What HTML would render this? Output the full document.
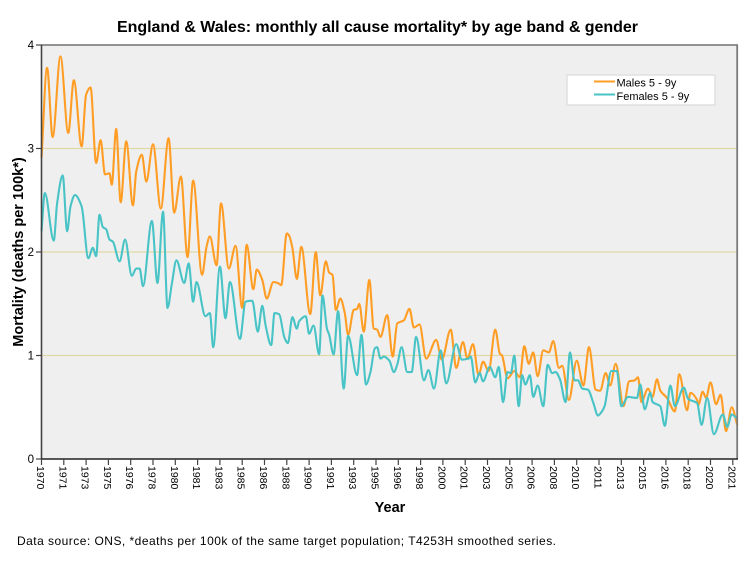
<!DOCTYPE html>
<html>
<head>
<meta charset="utf-8">
<style>
html,body{margin:0;padding:0;background:#fff}
svg{display:block}
text{font-family:"Liberation Sans",sans-serif;fill:#000}
</style>
</head>
<body>
<svg id="chart" xmlns="http://www.w3.org/2000/svg" width="754" height="564" viewBox="0 0 754 564">
<text x="377.5" y="32" font-size="16" font-weight="bold" text-anchor="middle" textLength="521">England &amp; Wales: monthly all cause mortality* by age band &amp; gender</text>
<text transform="translate(23,252) rotate(-90)" font-size="14.5" font-weight="bold" text-anchor="middle">Mortality (deaths per 100k*)</text>
<text x="390" y="512" font-size="14.5" font-weight="bold" text-anchor="middle">Year</text>
<text x="17" y="545" font-size="12" textLength="539">Data source: ONS, *deaths per 100k of the same target population; T4253H smoothed series.</text>
<rect x="41.5" y="45" width="695.5" height="414" fill="#efefef"/>
<g id="grid"></g>
<g id="series"></g>
<g id="axes"></g>
<g>
<rect x="567" y="75" width="148" height="30" fill="#fff" stroke="#e0e0e0" stroke-width="1.5"/>
<line x1="594" x2="615" y1="81.5" y2="81.5" stroke="#ff9d24" stroke-width="2"/>
<line x1="594" x2="615" y1="94.5" y2="94.5" stroke="#48c3c6" stroke-width="2"/>
<text x="616.5" y="86.5" font-size="11">Males 5 - 9y</text>
<text x="616.5" y="100" font-size="11">Females 5 - 9y</text>
</g>
</svg>
<script>
const tickYears = [1970,1971,1973,1975,1976,1978,1980,1981,1983,1985,1986,1988,1990,1991,1993,1995,1996,1998,2000,2001,2003,2005,2006,2008,2010,2011,2013,2015,2016,2018,2020,2021];
const yTicks = [0,1,2,3,4];
const gridValues = [1,2,3];
const maleMonths = [0,5,10,17,24,29,36,40,44,49,53,57,61,63,67,71,76,82,85,90,94,100,107,114,119,125,131,136,144,148,151,157,161,168,174,180,184,190,193,198,202,208,212,215,220,222,225,229,233,241,246,250,255,258,261,264,268,272,275,280,283,285,289,294,298,301,304,310,315,319,325,330,334,339,345,354,359,367,372,378,382,387,392,396,401,407,411,413,418,424,429,433,437,441,445,450,455,459,464,467,473,480,486,491,497,501,506,510,515,522,527,532,535,538,544,548,552,555,561,568,572,579,582,588,589,593,596,600,605,609,614,619,624];
const maleValues = [2.91,3.78,3.11,3.89,3.15,3.66,3.02,3.52,3.59,2.86,3.08,2.75,2.76,2.65,3.19,2.48,3.07,2.45,2.78,2.94,2.68,3.04,2.42,3.10,2.38,2.73,1.95,2.69,1.78,2.05,2.15,1.87,2.47,1.84,2.06,1.46,2.07,1.64,1.83,1.73,1.55,1.71,1.70,1.68,2.18,2.16,2.04,1.74,2.05,1.40,2.00,1.58,1.91,1.80,1.78,1.44,1.55,1.41,1.20,1.44,1.45,1.50,1.23,1.73,1.26,1.25,1.18,1.39,0.99,1.31,1.34,1.45,1.27,1.30,0.97,1.15,0.96,1.25,0.88,1.13,0.97,1.11,0.81,0.94,0.85,1.25,1.02,1.00,0.78,0.85,0.79,1.09,0.92,1.03,0.80,1.05,1.03,1.14,0.88,0.90,0.57,0.95,0.71,1.08,0.67,0.66,0.83,0.71,0.92,0.51,0.75,0.76,0.79,0.55,0.68,0.60,0.77,0.66,0.59,0.46,0.82,0.47,0.64,0.57,0.52,0.65,0.59,0.74,0.53,0.62,0.27,0.50,0.33];
const femaleMonths = [0,3,11,14,19,23,26,30,36,42,46,49,52,55,58,61,64,70,75,81,85,88,91,99,104,109,113,117,121,128,132,136,139,147,151,154,160,165,169,178,183,189,194,198,201,206,209,213,218,221,225,229,231,237,240,244,249,252,256,258,262,266,271,275,283,287,291,295,299,301,304,307,312,316,319,323,328,332,336,343,347,352,358,363,372,377,383,385,389,393,396,402,407,410,414,418,421,424,428,431,434,438,441,445,450,454,458,461,465,470,474,478,481,485,490,495,499,502,505,511,516,520,526,534,537,541,546,548,555,559,564,568,576,580,588,592,597,603,611,615,619,624];
const femaleValues = [2.20,2.57,2.11,2.47,2.74,2.20,2.44,2.55,2.44,1.94,2.04,1.96,2.36,2.24,2.22,2.12,2.10,1.91,2.12,1.77,1.84,1.84,1.67,2.30,1.70,2.39,1.46,1.70,1.92,1.70,1.89,1.52,1.71,1.38,1.41,1.08,1.86,1.36,1.71,1.16,1.52,1.53,1.23,1.48,1.29,1.10,1.41,1.40,1.17,1.12,1.37,1.26,1.33,1.38,1.21,1.29,1.01,1.58,1.26,1.20,1.01,1.43,0.68,1.19,0.81,1.20,0.72,0.84,1.07,1.08,0.97,0.99,0.95,0.84,0.91,1.08,0.84,0.84,1.18,0.76,0.86,0.68,1.05,0.73,1.11,0.96,0.97,0.99,0.74,0.83,0.75,0.89,0.79,0.89,0.55,0.84,0.83,1.00,0.51,0.81,0.72,0.81,0.60,0.71,0.51,0.91,0.83,0.84,0.77,0.55,1.03,0.76,0.76,0.68,0.67,0.54,0.42,0.45,0.51,0.85,0.85,0.51,0.60,0.59,0.72,0.48,0.64,0.55,0.51,0.32,0.71,0.51,0.69,0.58,0.54,0.33,0.59,0.24,0.43,0.31,0.43,0.39];

const NS = 'http://www.w3.org/2000/svg';
const xMonth = m => 41.5 + m * 1.115;
const yVal = v => 459 - v * 103.5;

function mk(parent, tag, attrs) {
  const el = document.createElementNS(NS, tag);
  for (const k in attrs) el.setAttribute(k, attrs[k]);
  parent.appendChild(el);
  return el;
}

function smoothPath(ms, vs) {
  const n = Math.min(ms.length, vs.length);
  const xs = [], ys = [];
  for (let i = 0; i < n; i++) { xs.push(xMonth(ms[i])); ys.push(yVal(vs[i])); }
  const t = [];
  for (let i = 0; i < n; i++) {
    if (i === 0 || i === n - 1) {
      const a = i === 0 ? 0 : n - 2;
      t.push((ys[a + 1] - ys[a]) / (xs[a + 1] - xs[a]));
    } else {
      const s0 = (ys[i] - ys[i - 1]) / (xs[i] - xs[i - 1]);
      const s1 = (ys[i + 1] - ys[i]) / (xs[i + 1] - xs[i]);
      t.push(s0 * s1 <= 0 ? 0 : 2 * s0 * s1 / (s0 + s1));
    }
  }
  let d = 'M' + xs[0].toFixed(2) + ' ' + ys[0].toFixed(2);
  for (let i = 0; i < n - 1; i++) {
    const h = (xs[i + 1] - xs[i]) / 3;
    d += 'C' + (xs[i] + h).toFixed(2) + ' ' + (ys[i] + t[i] * h).toFixed(2) + ' ' +
      (xs[i + 1] - h).toFixed(2) + ' ' + (ys[i + 1] - t[i + 1] * h).toFixed(2) + ' ' +
      xs[i + 1].toFixed(2) + ' ' + ys[i + 1].toFixed(2);
  }
  return d;
}

const grid = document.getElementById('grid');
gridValues.forEach(v => {
  const l = mk(grid, 'line', {x1: 41.5, x2: 737, y1: yVal(v), y2: yVal(v), stroke: '#dfd9a8', 'stroke-width': 1.3});
  
  
});

const series = document.getElementById('series');
const maleLine = mk(series, 'path', {d: smoothPath(maleMonths, maleValues), fill: 'none', stroke: '#ff9d24', 'stroke-width': 2.1, 'stroke-linejoin': 'round'});


const femaleLine = mk(series, 'path', {d: smoothPath(femaleMonths, femaleValues), fill: 'none', stroke: '#48c3c6', 'stroke-width': 2.1, 'stroke-linejoin': 'round'});



const axes = document.getElementById('axes');
const topBorder = mk(axes, 'line', {x1: 41, x2: 738, y1: 45, y2: 45, stroke: '#707070', 'stroke-width': 1.6});


const rightBorder = mk(axes, 'line', {x1: 737.2, x2: 737.2, y1: 45, y2: 459, stroke: '#7a7a7a', 'stroke-width': 1.8});


const yAxis = mk(axes, 'line', {x1: 41.5, x2: 41.5, y1: 45, y2: 459.5, stroke: '#444', 'stroke-width': 1.6});


const xAxis = mk(axes, 'line', {x1: 41, x2: 738, y1: 459, y2: 459, stroke: '#222', 'stroke-width': 1.4});



yTicks.forEach(v => {
  const t = mk(axes, 'line', {x1: 36, x2: 41.5, y1: yVal(v), y2: yVal(v), stroke: '#444', 'stroke-width': 1.2});
  
  
  const l = mk(axes, 'text', {x: 34, y: yVal(v) + 4, 'font-size': 11.5, 'text-anchor': 'end'});
  
  
  l.textContent = v;
});

tickYears.forEach((yr, i) => {
  const x = xMonth(i * 20);
  const t = mk(axes, 'line', {x1: x, x2: x, y1: 459, y2: 465, stroke: '#444', 'stroke-width': 1.2});
  
  
  const l = mk(axes, 'text', {transform: 'translate(' + (x - 4.5).toFixed(2) + ',466) rotate(90)', 'font-size': 10.5});
  
  
  l.textContent = yr;
});
</script>
</body>
</html>
